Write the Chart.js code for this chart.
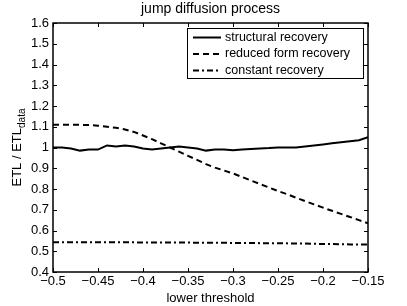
<!DOCTYPE html>
<html>
<head>
<meta charset="utf-8">
<script src="https://cdn.jsdelivr.net/npm/chart.js@4"></script>
<style>
  html, body { margin: 0; padding: 0; background: #fff; }
  #wrap { width: 407px; height: 306px; }
</style>
</head>
<body>
<div id="wrap"><canvas id="c" width="407" height="306"></canvas></div>
<script>
// lower threshold values (x)
const thresholds = [-0.50, -0.49, -0.48, -0.47, -0.46, -0.45, -0.44, -0.43, -0.42, -0.41,
                    -0.40, -0.39, -0.38, -0.37, -0.36, -0.35, -0.34, -0.33, -0.32, -0.31,
                    -0.30, -0.29, -0.28, -0.27, -0.26, -0.25, -0.24, -0.23, -0.22, -0.21,
                    -0.20, -0.19, -0.18, -0.17, -0.16, -0.15];
const structural = [1.000, 1.000, 0.995, 0.985, 0.990, 0.990, 1.010, 1.005, 1.010, 1.005,
                    0.995, 0.990, 0.995, 1.000, 1.005, 1.000, 0.995, 0.985, 0.990, 0.990,
                    0.987, 0.990, 0.993, 0.995, 0.997, 1.000, 1.000, 1.000, 1.005, 1.010,
                    1.015, 1.020, 1.025, 1.030, 1.035, 1.050];
const reducedForm = [1.110, 1.110, 1.110, 1.109, 1.108, 1.105, 1.100, 1.095, 1.087, 1.075,
                     1.058, 1.040, 1.020, 1.000, 0.980, 0.960, 0.940, 0.920, 0.903, 0.889,
                     0.875, 0.858, 0.841, 0.824, 0.807, 0.790, 0.775, 0.758, 0.742, 0.726,
                     0.710, 0.695, 0.680, 0.665, 0.650, 0.635];
const constant = [0.543, 0.543, 0.543, 0.543, 0.543, 0.543, 0.543, 0.543, 0.543, 0.543,
                  0.542, 0.542, 0.542, 0.542, 0.542, 0.542, 0.541, 0.541, 0.541, 0.541,
                  0.540, 0.540, 0.540, 0.539, 0.539, 0.539, 0.538, 0.537, 0.537, 0.536,
                  0.535, 0.535, 0.534, 0.533, 0.533, 0.532];
const seriesNames = ['structural recovery', 'reduced form recovery', 'constant recovery'];
const xTicks = [-0.5, -0.45, -0.4, -0.35, -0.3, -0.25, -0.2, -0.15];
const yTicks = [0.4, 0.5, 0.6, 0.7, 0.8, 0.9, 1.0, 1.1, 1.2, 1.3, 1.4, 1.5, 1.6];

const FONT = '"Liberation Sans", Arial, Helvetica, sans-serif';
const dashes = [[], [6, 4], [6, 3, 2, 3]];

function pts(ys) { return thresholds.map((x, i) => ({ x: x, y: ys[i] })); }
function fmt(v) { return String(Math.round(v * 100) / 100).replace('-', '\u2212'); }

const matlabBox = {
  id: 'matlabBox',
  afterDraw(chart) {
    const ctx = chart.ctx, a = chart.chartArea;
    const xs = chart.scales.x, ys = chart.scales.y;
    ctx.save();
    ctx.strokeStyle = '#000';
    ctx.lineWidth = 1.5;
    ctx.strokeRect(a.left, a.top, a.right - a.left, a.bottom - a.top);
    ctx.lineWidth = 1;
    ctx.beginPath();
    const tl = 4;
    xTicks.forEach(v => {
      const p = Math.round(xs.getPixelForValue(v)) + 0.5;
      ctx.moveTo(p, a.bottom); ctx.lineTo(p, a.bottom - tl);
      ctx.moveTo(p, a.top); ctx.lineTo(p, a.top + tl);
    });
    yTicks.forEach(v => {
      const p = Math.round(ys.getPixelForValue(v)) + 0.5;
      ctx.moveTo(a.left, p); ctx.lineTo(a.left + tl, p);
      ctx.moveTo(a.right, p); ctx.lineTo(a.right - tl, p);
    });
    ctx.stroke();

    // title
    ctx.fillStyle = '#000';
    ctx.font = '14px ' + FONT;
    ctx.textAlign = 'center';
    ctx.textBaseline = 'middle';
    ctx.fillText('jump diffusion process', (a.left + a.right) / 2, 9);

    // y label with subscript
    ctx.save();
    ctx.translate(17, (a.top + a.bottom) / 2);
    ctx.rotate(-Math.PI / 2);
    const main = 'ETL / ETL';
    ctx.font = '13px ' + FONT;
    const wMain = ctx.measureText(main).width;
    ctx.font = '10px ' + FONT;
    const wSub = ctx.measureText('data').width;
    const start = -(wMain + wSub) / 2;
    ctx.textAlign = 'left';
    ctx.textBaseline = 'alphabetic';
    ctx.font = '13px ' + FONT;
    ctx.fillText(main, start, 4);
    ctx.font = '10px ' + FONT;
    ctx.fillText('data', start + wMain, 8);
    ctx.restore();

    // legend
    const lx = 187, ly = 28, lw = 176, lh = 50;
    ctx.fillStyle = '#fff';
    ctx.fillRect(lx, ly, lw, lh);
    ctx.lineWidth = 1;
    ctx.strokeStyle = '#000';
    ctx.strokeRect(lx + 0.5, ly + 0.5, lw, lh);
    ctx.font = '12.5px ' + FONT;
    ctx.textAlign = 'left';
    ctx.textBaseline = 'middle';
    seriesNames.forEach((name, i) => {
      const yy = ly + 9.5 + i * 16.5;
      ctx.beginPath();
      ctx.setLineDash(dashes[i]);
      ctx.lineWidth = 2;
      ctx.moveTo(lx + 6, yy); ctx.lineTo(lx + 34, yy);
      ctx.stroke();
      ctx.setLineDash([]);
      ctx.fillStyle = '#000';
      ctx.fillText(name, lx + 38, yy);
    });
    ctx.restore();
  }
};

new Chart(document.getElementById('c'), {
  type: 'line',
  data: {
    datasets: [structural, reducedForm, constant].map((ys, i) => ({
      label: seriesNames[i],
      data: pts(ys),
      borderColor: '#000',
      borderWidth: 2,
      borderDash: dashes[i],
      pointRadius: 0,
      tension: 0,
      fill: false
    }))
  },
  options: {
    responsive: false,
    animation: false,
    layout: { padding: { top: 23, right: 39, left: 0, bottom: 0 } },
    plugins: { legend: { display: false }, title: { display: false }, tooltip: { enabled: false } },
    scales: {
      x: {
        type: 'linear', min: -0.5, max: -0.15,
        afterBuildTicks: s => { s.ticks = xTicks.map(v => ({ value: v })); },
        afterFit: s => { s.height = 34; },
        grid: { display: false, drawTicks: false },
        border: { display: false },
        ticks: { color: '#000', font: { family: FONT, size: 13 }, padding: 2, maxRotation: 0, autoSkip: false, callback: v => fmt(v) },
        title: { display: true, text: 'lower threshold', color: '#000', font: { family: FONT, size: 13 }, padding: { top: 0, bottom: 0 } }
      },
      y: {
        type: 'linear', min: 0.4, max: 1.6,
        afterBuildTicks: s => { s.ticks = yTicks.map(v => ({ value: v })); },
        afterFit: s => { s.width = 53; },
        grid: { display: false, drawTicks: false },
        border: { display: false },
        ticks: { color: '#000', font: { family: FONT, size: 13 }, padding: 4, autoSkip: false, callback: v => fmt(v) }
      }
    }
  },
  plugins: [matlabBox]
});
</script>
</body>
</html>
